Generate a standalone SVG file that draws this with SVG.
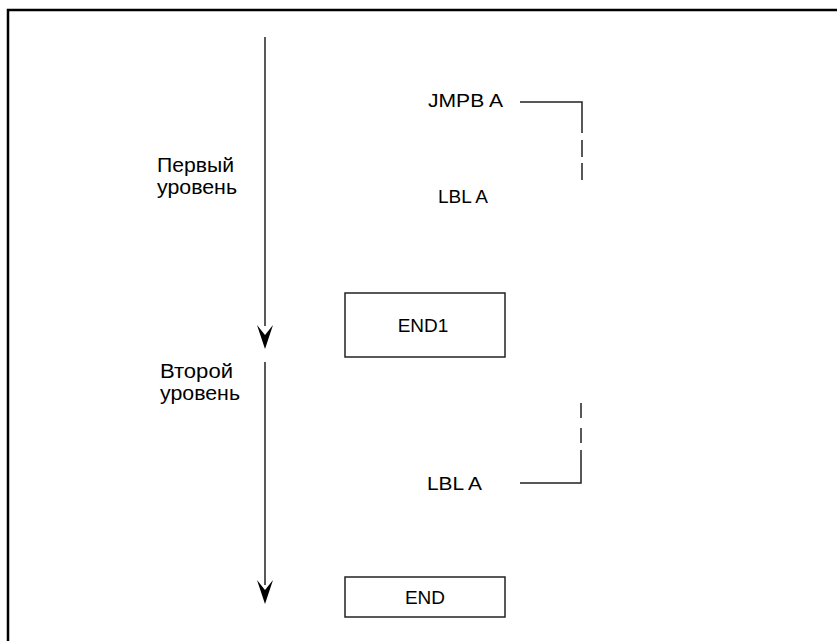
<svg xmlns="http://www.w3.org/2000/svg" width="837" height="641" viewBox="0 0 837 641">
<style>
text{font-family:"Liberation Sans",Arial,sans-serif;font-size:19px;fill:#000}
.cy{font-size:20px}
.ln{stroke:#222;stroke-width:1.5;fill:none}
.box{fill:#fff;stroke:#222;stroke-width:1.5}
</style>
<rect width="837" height="641" fill="#fff"/>
<path d="M8,641 V10 H837" fill="none" stroke="#000" stroke-width="2.5"/>
<g id="connectors">
<line class="ln" x1="265" y1="37" x2="265" y2="326"/>
<path d="M257,325 L265,335 L273,325 L265,349 Z" fill="#000"/>
<line class="ln" x1="265" y1="362" x2="265" y2="585"/>
<path d="M257,580 L265,590 L273,580 L265,604 Z" fill="#000"/>
<path class="ln" d="M520,102 H582 V133 M582,140 V157 M582,163 V180"/>
<path class="ln" d="M581,403 V418 M581,428 V443 M581,450 V483 H520"/>
</g>
<g id="level1"><text class="cy" x="157" y="172" textLength="77" lengthAdjust="spacingAndGlyphs">Первый</text><text class="cy" x="157" y="194" textLength="80" lengthAdjust="spacingAndGlyphs">уровень</text></g>
<g id="level2"><text class="cy" x="160" y="378" textLength="73" lengthAdjust="spacingAndGlyphs">Второй</text><text class="cy" x="160" y="400" textLength="80" lengthAdjust="spacingAndGlyphs">уровень</text></g>
<g id="jmpb"><text x="428" y="107" textLength="75" lengthAdjust="spacingAndGlyphs">JMPB A</text></g>
<g id="lbl1"><text x="438" y="203" textLength="50" lengthAdjust="spacingAndGlyphs">LBL A</text></g>
<g id="end1"><rect class="box" x="345" y="293" width="160" height="64"/><text x="423" y="332" text-anchor="middle">END1</text></g>
<g id="lbl2"><text x="427" y="490" textLength="55" lengthAdjust="spacingAndGlyphs">LBL A</text></g>
<g id="end"><rect class="box" x="345" y="577" width="160" height="40"/><text x="425" y="604" text-anchor="middle">END</text></g>
</svg>
